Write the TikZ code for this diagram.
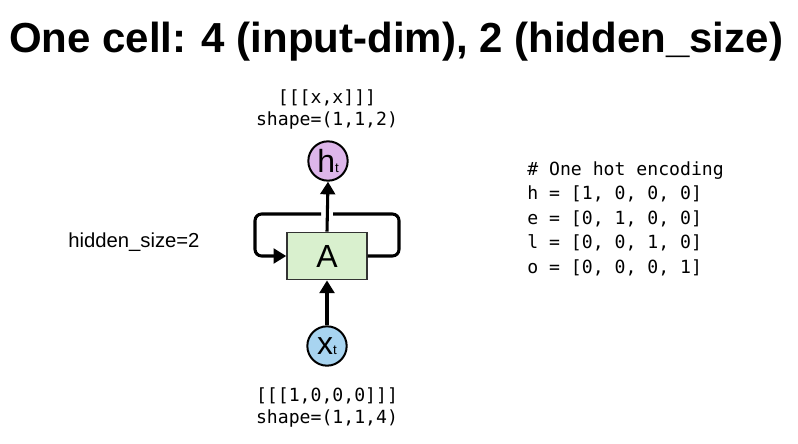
\documentclass[tikz,border=0pt]{standalone}
\usepackage{fontspec}
\setmainfont{Liberation Sans}
\setmonofont{DejaVu Sans Mono}
\usetikzlibrary{arrows.meta, positioning}
\definecolor{cellgreen}{HTML}{D9F0CE}
\definecolor{hviolet}{HTML}{DDB6EA}
\definecolor{xblue}{HTML}{A8D4F0}
\tikzset{
  title text/.style={
    font=\bfseries\fontsize{31.5}{36}\selectfont, inner sep=0pt
  },
  cell box/.style={
    rectangle, draw=black!80, fill=cellgreen, line width=1.1pt,
    minimum width=60pt, minimum height=35.5pt,
    font=\fontsize{24}{24}\selectfont
  },
  state node/.style={
    circle, draw=black, line width=1.5pt,
    minimum size=29.5pt, inner sep=0pt
  },
  code text/.style={
    font=\ttfamily\fontsize{13.6}{16.5}\selectfont, inner sep=0pt
  },
  flow arrow/.style={
    -{Triangle[length=9.5pt, width=11pt]}, line width=2.3pt, draw=black
  },
  loop line/.style={
    line width=2.3pt, draw=black, rounded corners=5pt
  }
}
\newcommand{\statelabel}[2]{{\fontsize{24}{24}\selectfont #1}\raisebox{-0.5pt}{\fontsize{10}{10}\selectfont #2}}

\begin{document}
\begin{tikzpicture}[x=0.75pt, y=-0.75pt]
  \useasboundingbox (0,0) rectangle (798,443);
  % Title
  \node (title) [title text, anchor=base] at (396,52) {One cell: 4 (input-dim), 2 (hidden\_size)};
  % Cell with input and output
  \node (cell) [cell box] at (327,256) {A};
  \node (ht) [state node, fill=hviolet] at (328,161) {\statelabel{h}{t}};
  \node (xt) [state node, fill=xblue] at (327,346) {\statelabel{x}{t}};
  \node (outval) [code text, align=center, anchor=north] at (327,89) {[[[x,x]]]\\shape=(1,1,2)};
  \node (inval) [code text, align=center, anchor=north] at (327,387) {[[[1,0,0,0]]]\\shape=(1,1,4)};
  \node (hsize) [anchor=base west, inner sep=0pt, font=\fontsize{15.2}{18}\selectfont] at (68,247) {hidden\_size=2};
  % One hot table
  \node (onehot) [code text, align=left, anchor=north west, font=\ttfamily\fontsize{13.6}{18.4}\selectfont] at (527,161)
    {\# One hot encoding\\h = [1, 0, 0, 0]\\e = [0, 1, 0, 0]\\l = [0, 0, 1, 0]\\o = [0, 0, 0, 1]};

  % Recurrent loop
  \coordinate (cornerR) at (399,214);
  \coordinate (cornerL) at (255,214);
  \coordinate (gapR) at (333,214);
  \coordinate (gapL) at (321,214);
  \draw [loop line] (cell.east) -| (cornerR) -- (gapR);
  \draw [loop line, flow arrow] (gapL) -- (cornerL) |- (cell.west);

  \draw [flow arrow] (cell.north) -- (ht.south);
  \draw [flow arrow] (xt.north) -- (cell.south);
\end{tikzpicture}
\end{document}
